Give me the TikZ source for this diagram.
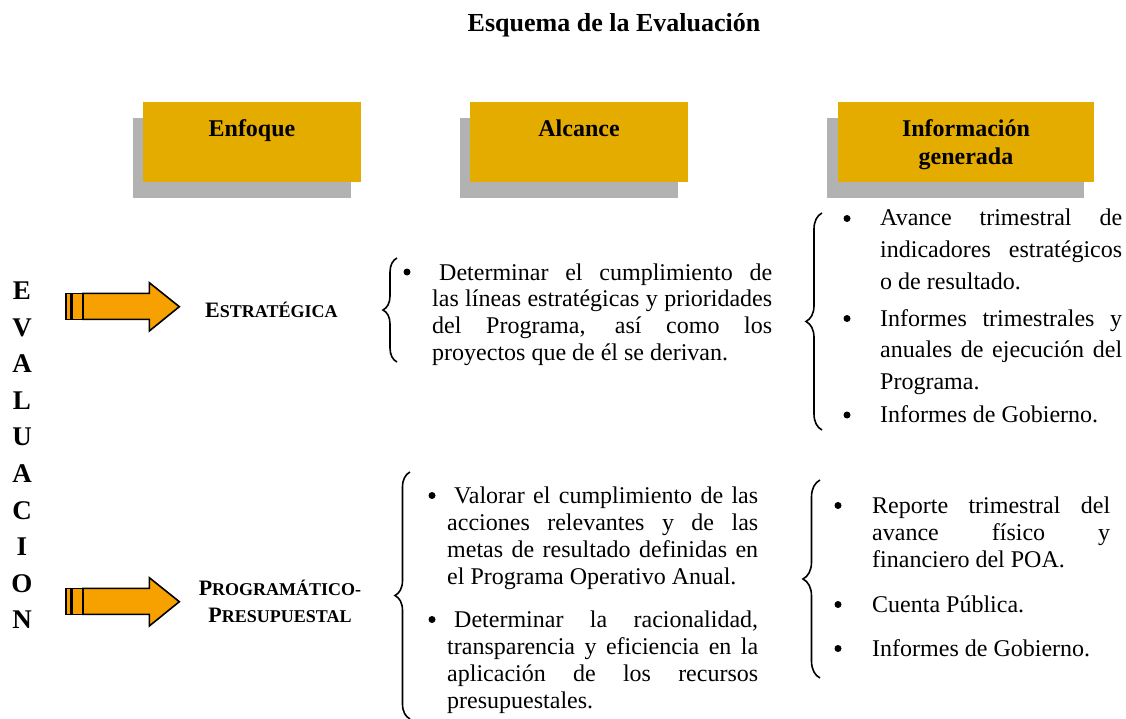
\documentclass[tikz,border=0pt]{standalone}
\usepackage{fontspec}
\setmainfont{Liberation Serif}
\usetikzlibrary{decorations.pathreplacing}
\hbadness=10000
\hfuzz=30pt
\definecolor{gold}{RGB}{229,172,0}
\definecolor{shadowgray}{RGB}{178,178,178}
\definecolor{arroworange}{RGB}{246,161,0}
\newcommand\evarrow[2]{%
  \begin{scope}[shift={(0,#1)}]
    \draw[arr] (83,293.3) -- (149.3,293.3) -- (149.3,282.7) -- (179.3,306.7)
      -- (149.3,331) -- (149.3,319.3) -- (83,319.3) -- cycle;
    \draw[arr] (72,293.3) rectangle (82.3,319.3);
    \draw[arr] (65.7,293.3) rectangle (70.7,319.3);
    \coordinate (#2) at (179.3,306.7);
  \end{scope}}
\begin{document}
\begin{tikzpicture}[x=1pt,y=-1pt,
  hdrbox/.style={fill=gold, draw=none, inner sep=0pt, anchor=north west, minimum height=80pt},
  shadowbox/.style={fill=shadowgray, draw=none, inner sep=0pt, anchor=north west, minimum height=80pt},
  hdrtext/.style={font=\bfseries\fontsize{24}{28.4}\selectfont, inner sep=0pt, anchor=base, align=center, text width=250pt},
  para/.style={anchor=base west, inner sep=0pt, align=justify},
  bul/.style={circle, fill=black, draw=none, inner sep=0pt, minimum size=7pt},
  bracey/.style={draw, line width=1.6pt, decorate, decoration={brace, amplitude=#1}},
  arr/.style={fill=arroworange, draw=black, line width=1.6pt, line join=miter},
]
\useasboundingbox (0,0) rectangle (1126,719);
\fill[white] (0,0) rectangle (1126,719);

% title
\node[font=\bfseries\fontsize{26}{30}\selectfont, anchor=base, inner sep=0pt] (title) at (614,31.5) {Esquema de la Evaluación};

% header boxes
\node[shadowbox, minimum width=218pt] (enfS) at (133,118) {};
\node[hdrbox, minimum width=218pt] (enf) at (143,102) {};
\node[shadowbox, minimum width=218pt] (alcS) at (460,118) {};
\node[hdrbox, minimum width=218pt] (alc) at (470,102) {};
\node[shadowbox, minimum width=257pt] (infS) at (827,118) {};
\node[hdrbox, minimum width=256pt] (inf) at (838,102) {};
\node[hdrtext] (enfT) at (252,137) {Enfoque};
\node[hdrtext] (alcT) at (579,137) {Alcance};
\node[hdrtext] (infT) at (966,136.3) {Información\\generada};

% vertical word
\node[font=\bfseries\fontsize{27}{36.6}\selectfont, align=center, text width=40pt, inner sep=0pt, anchor=base] (ev) at (22,299.5) {E\\V\\A\\L\\U\\A\\C\\I\\O\\N};

% arrows
\evarrow{0}{tip1}
\evarrow{295}{tip2}

\node[anchor=base west, inner sep=0pt, font=\bfseries] (est) at (205,317)
  {\fontsize{22}{22}\selectfont E\fontsize{18}{18}\selectfont STRATÉGICA};
\node[anchor=base, inner sep=0pt, font=\bfseries\fontsize{22}{27.4}\selectfont, align=center, text width=200pt] (prog) at (280,595.5)
  {P{\fontsize{18}{27.4}\selectfont ROGRAMÁTICO-}\\P{\fontsize{18}{27.4}\selectfont RESUPUESTAL}};

% braces
\draw[bracey=14] (397,362) -- (397,258);
\draw[bracey=16] (822,430) -- (822,213);
\draw[bracey=15] (410,719) -- (410,472);
\draw[bracey=17] (820,678) -- (820,480);

% Alcance 1
\node[bul] (b1) at (407,272) {};
\node[para, text width=340pt, font=\fontsize{24}{26.7}\selectfont] (a1) at (432,280)
  {\hspace*{7pt}Determinar el cumplimiento de\linebreak las líneas estratégicas y prioridades\linebreak del Programa, así como los\linebreak proyectos que de él se derivan.};

% Info 1
\node[bul] (b2) at (847,218.5) {};
\node[para, text width=242pt, font=\fontsize{24}{31.5}\selectfont] (i1) at (880,226)
  {Avance trimestral de\linebreak indicadores estratégicos\linebreak o de resultado.};
\node[bul] (b3) at (847,318.5) {};
\node[para, text width=242pt, font=\fontsize{24}{31.5}\selectfont] (i2) at (880,326)
  {Informes trimestrales y\linebreak anuales de ejecución del\linebreak Programa.};
\node[bul] (b4) at (847,415) {};
\node[para, text width=242pt, font=\fontsize{24}{31.5}\selectfont] (i3) at (880,422.5)
  {Informes de Gobierno.};

% Alcance 2
\node[bul] (b5) at (432,495.5) {};
\node[para, text width=311pt, font=\fontsize{24}{27}\selectfont] (a2) at (447,503)
  {\hspace*{7pt}Valorar el cumplimiento de las\linebreak acciones relevantes y de las\linebreak metas de resultado definidas en\linebreak el Programa Operativo Anual.};
\node[bul] (b6) at (432,619.5) {};
\node[para, text width=311pt, font=\fontsize{24}{27}\selectfont] (a3) at (447,627)
  {\hspace*{7pt}Determinar la racionalidad,\linebreak transparencia y eficiencia en la\linebreak aplicación de los recursos\linebreak presupuestales.};

% Info 2
\node[bul] (b7) at (838,505.5) {};
\node[para, text width=238pt, font=\fontsize{24}{27}\selectfont] (i4) at (872,513)
  {Reporte trimestral del\linebreak avance físico y\linebreak financiero del POA.};
\node[bul] (b8) at (838,604.5) {};
\node[para, text width=238pt, font=\fontsize{24}{27}\selectfont] (i5) at (872,612)
  {Cuenta Pública.};
\node[bul] (b9) at (838,648.5) {};
\node[para, text width=238pt, font=\fontsize{24}{27}\selectfont] (i6) at (872,656)
  {Informes de Gobierno.};
\end{tikzpicture}
\end{document}
